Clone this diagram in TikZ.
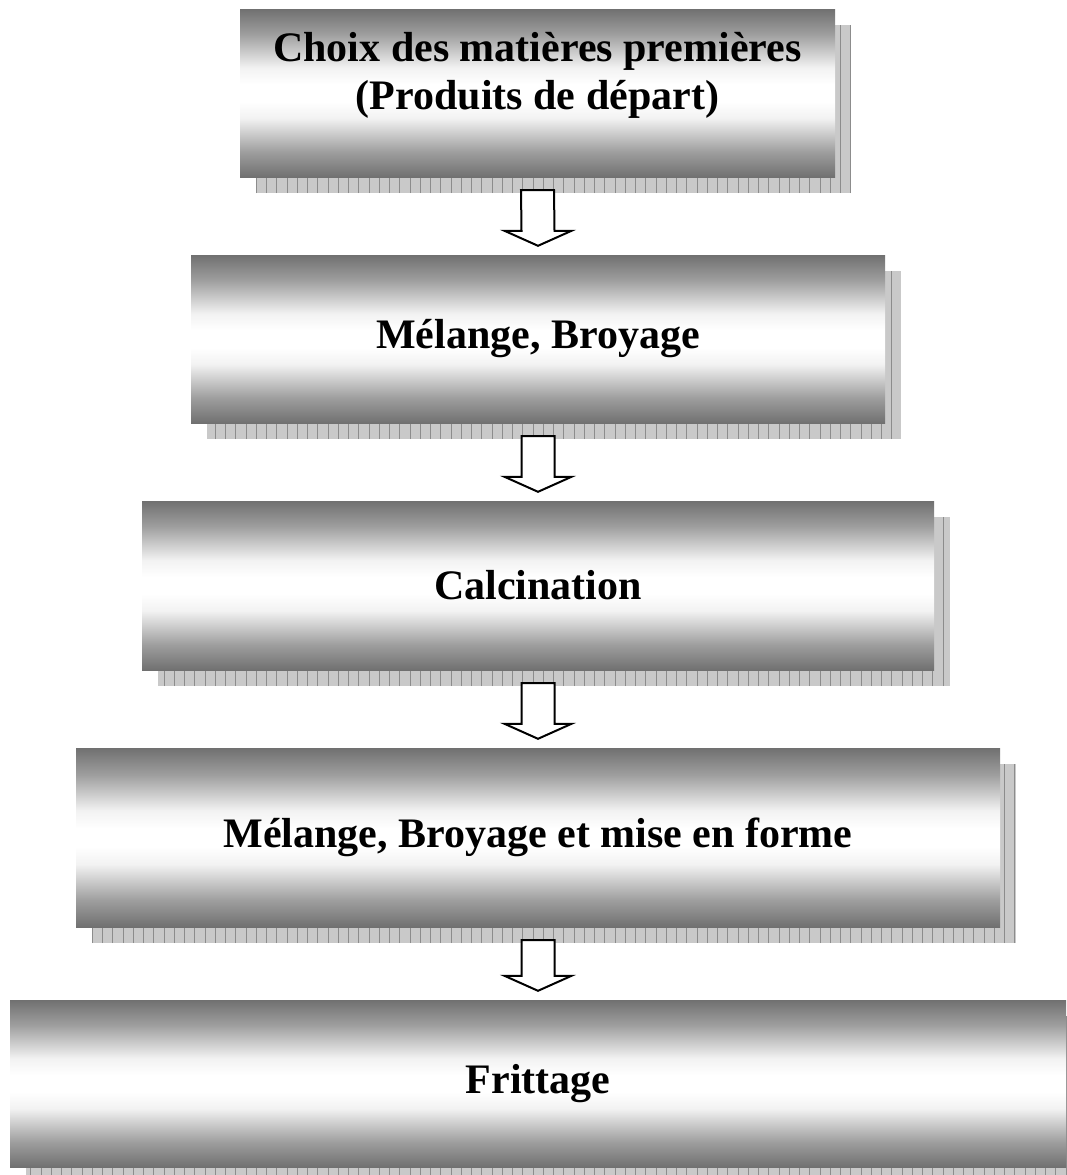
\documentclass[tikz,border=0pt]{standalone}
\usepackage{fontspec}
\setmainfont{Liberation Serif}
\usetikzlibrary{calc}
\pgfdeclarelayer{background}
\pgfsetlayers{background,main}
\definecolor{shadowbase}{gray}{0.79}
\definecolor{shadowline}{gray}{0.55}
\definecolor{gA}{gray}{0.44}
\definecolor{gB}{gray}{0.62}
\definecolor{gC}{gray}{0.95}
\definecolor{gD}{gray}{1}
\pgfdeclareverticalshading{boxshade}{100bp}{color(0bp)=(gA); color(25bp)=(gA); color(32.5bp)=(gB); color(42.5bp)=(gC); color(47.5bp)=(gD); color(52.5bp)=(gD); color(57.5bp)=(gC); color(67.5bp)=(gB); color(75bp)=(gA); color(100bp)=(gA)}
\tikzset{
  stepbox/.style={rectangle, draw=none, shading=boxshade, inner sep=0pt,
    font=\fontsize{42}{48}\selectfont\bfseries, align=center},
  boxtext/.style={inner sep=0pt, font=\fontsize{42}{48}\selectfont\bfseries, align=center},
  blockarrow/.style={draw=black, fill=white, line width=2pt, line join=miter},
  shadowgrid/.style={shadowline, line width=0.9pt}
}
\newcommand\boxshadow[1]{%
  \begin{scope}
    \clip ($(#1.south west)+(16,16)$) rectangle ($(#1.north east)+(16,16)$);
    \fill[shadowbase] ($(#1.south west)+(16,16)$) rectangle ($(#1.north east)+(16,16)$);
    \draw[shadowgrid, step=10.25] ($(#1.south west)+(16,16)$) grid ($(#1.north east)+(16,16)$);
  \end{scope}}
\newcommand\flowarrow[3]{%
  \coordinate (#1s) at ($(#2.south)+(0,13)$);
  \coordinate (#1e) at ($(#3.north)+(0,-9)$);
  \draw[blockarrow] ($(#1s)+(-16.5,0)$) -- ($(#1e)+(-16.5,-15)$) -- ($(#1e)+(-33.5,-15)$)
    -- (#1e) -- ($(#1e)+(33.5,-15)$) -- ($(#1e)+(16.5,-15)$) -- ($(#1s)+(16.5,0)$) -- cycle;}
\begin{document}
\begin{tikzpicture}[x=1pt,y=-1pt]
\useasboundingbox (0,0) rectangle (1066,1175);
\node[stepbox, minimum width=595pt, minimum height=168pt] (b1) at (537.5,93) {};
\node[boxtext] (t1) at ($(b1.center)+(0,-18)$) {Choix des matières premières\\(Produits de départ)};
\node[stepbox, minimum width=694pt, minimum height=168pt] (b2) at (538,339) {Mélange, Broyage};
\node[stepbox, minimum width=792pt, minimum height=169pt] (b3) at (538,585.5) {Calcination};
\node[stepbox, minimum width=924pt, minimum height=179pt] (b4) at (538,837.5) {Mélange, Broyage et mise en forme};
\node[stepbox, minimum width=1056pt, minimum height=167pt] (b5) at (538,1083.5) {Frittage};
\begin{pgfonlayer}{background}
  \boxshadow{b1}
  \boxshadow{b2}
  \boxshadow{b3}
  \boxshadow{b4}
  \boxshadow{b5}
\end{pgfonlayer}
\flowarrow{a1}{b1}{b2}
\flowarrow{a2}{b2}{b3}
\flowarrow{a3}{b3}{b4}
\flowarrow{a4}{b4}{b5}
\end{tikzpicture}
\end{document}
